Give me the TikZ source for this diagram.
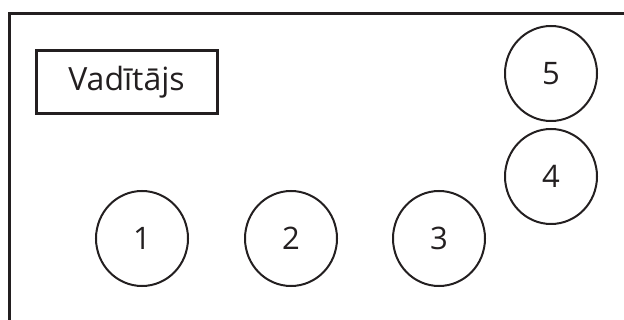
\documentclass[tikz,border=0pt]{standalone}
\usepackage{fontspec}
\setmainfont{Open Sans}
\usetikzlibrary{shapes.geometric, positioning}
\definecolor{ink}{HTML}{231F20}

\begin{document}
\begin{tikzpicture}[
    x=1pt, y=-1pt,
    node distance=6pt,
    seat/.style={ellipse, draw=ink, line width=2pt, minimum width=92pt, minimum height=95pt, inner sep=0pt, text=ink, font=\fontsize{31}{36}\selectfont},
    driverbox/.style={rectangle, draw=ink, line width=3pt, minimum width=181pt, minimum height=63pt, text=ink, font=\fontsize{32}{38}\selectfont},
]
    \useasboundingbox (0,0) rectangle (624,320);

    % room walls, only top and left show
    \draw [ink, line width=3pt] (9,322) -- (9,14) -- (626,14);

    % driver
    \node (driver) [driverbox] at (126.5,82.5) {Vadītājs};

    % seats
    \node (s1) [seat] at (142,238.5) {1};
    \node (s2) [seat] at (291,238.5) {2};
    \node (s3) [seat] at (439,238.5) {3};
    \node (s4) [seat] at (551,176.5) {4};
    \node (s5) [seat, above=of s4] {5};

\end{tikzpicture}
\end{document}
